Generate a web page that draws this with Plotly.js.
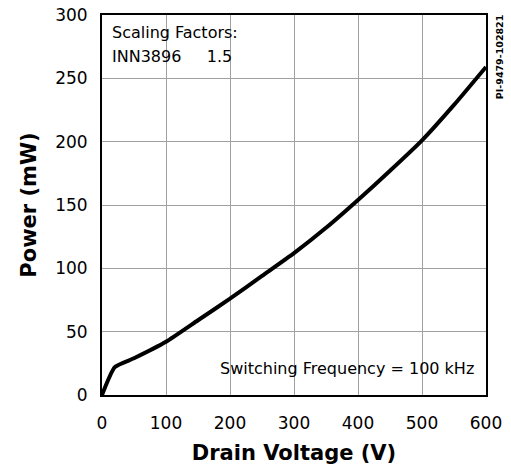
<!DOCTYPE html>
<html>
<head>
<meta charset="utf-8">
<script src="https://cdn.plot.ly/plotly-3.0.1.min.js"></script>
<style>html,body{margin:0;padding:0;background:#fff;}#chart{width:511px;height:470px;}</style>
</head>
<body>
<div id="chart"></div>
<script>
const drainVoltage = [0, 20, 50, 100, 150, 200, 250, 300, 350, 400, 450, 500, 550, 600];
const powerMW = [0, 22, 29, 42, 59, 76, 94, 112, 132, 154, 177, 201, 229, 259];
const xTicks = [0, 100, 200, 300, 400, 500, 600];
const yTicks = [0, 50, 100, 150, 200, 250, 300];

const font = "DejaVu Sans, Verdana, sans-serif";

const trace = {
  x: drainVoltage,
  y: powerMW,
  type: "scatter",
  mode: "lines",
  line: {color: "#000", width: 4, shape: "spline", smoothing: 0.5},
  hoverinfo: "skip"
};

const axisCommon = {
  showline: true, mirror: true, linecolor: "#000", linewidth: 2,
  showgrid: true, gridcolor: "#a0a0a0", gridwidth: 1,
  zeroline: false, ticks: "", fixedrange: true,
  tickfont: {family: font, size: 17, color: "#000"}
};

const layout = {
  width: 511, height: 470,
  margin: {l: 102, r: 25, t: 15, b: 75},
  paper_bgcolor: "#fff", plot_bgcolor: "#fff",
  showlegend: false,
  xaxis: Object.assign({}, axisCommon, {
    range: [0, 600], tickvals: xTicks, ticktext: xTicks.map(String),
    ticklabelstandoff: 12,
    title: {text: "<b>Drain Voltage (V)</b>", font: {family: font, size: 21, color: "#000"}, standoff: 13}
  }),
  yaxis: Object.assign({}, axisCommon, {
    range: [0, 300], tickvals: yTicks, ticktext: yTicks.map(String),
    ticklabelstandoff: 9,
    title: {text: "<b>Power (mW)</b>", font: {family: font, size: 21, color: "#000"}, standoff: 13}
  }),
  annotations: [
    {xref: "paper", yref: "paper", x: 0.02, y: 0.985, xanchor: "left", yanchor: "top",
     text: "Scaling Factors:", showarrow: false, font: {family: font, size: 16, color: "#000"}},
    {xref: "paper", yref: "paper", x: 0.02, y: 0.922, xanchor: "left", yanchor: "top",
     text: "INN3896&nbsp;&nbsp;&nbsp;&nbsp;&nbsp;1.5", showarrow: false, font: {family: font, size: 16, color: "#000"}},
    {xref: "paper", yref: "paper", x: 0.975, y: 0.04, xanchor: "right", yanchor: "bottom",
     text: "Switching Frequency = 100 kHz", showarrow: false, font: {family: font, size: 16, color: "#000"}},
    {xref: "paper", yref: "paper", x: 1.034, y: 1.005, xanchor: "center", yanchor: "top",
     text: "<b>PI-9479-102821</b>", textangle: -90, showarrow: false, font: {family: font, size: 9.5, color: "#000"}}
  ]
};

Plotly.newPlot("chart", [trace], layout, {displayModeBar: false, staticPlot: true});
</script>
</body>
</html>
